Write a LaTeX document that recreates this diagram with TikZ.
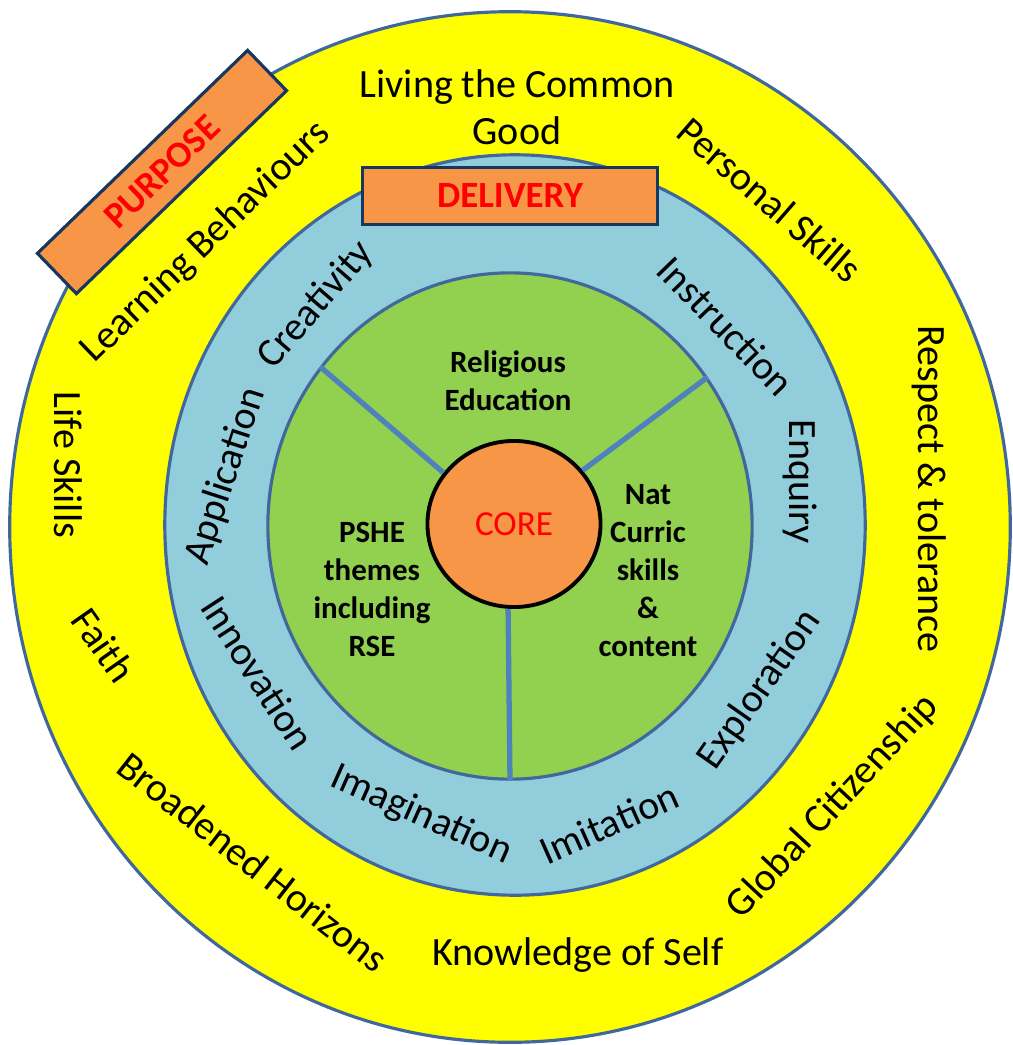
\documentclass[tikz,border=0pt]{standalone}
\usepackage{fontspec}
\setmainfont{Carlito}
\usetikzlibrary{shapes.geometric}
\definecolor{ringyellow}{HTML}{FFFF00}
\definecolor{ringblue}{HTML}{92CDDC}
\definecolor{ringgreen}{HTML}{92D050}
\definecolor{boxorange}{HTML}{F79646}
\definecolor{edgeblue}{HTML}{41689C}
\definecolor{spokeblue}{HTML}{4F81BD}
\definecolor{boxnavy}{HTML}{17375E}
\definecolor{titlered}{HTML}{FF0000}
\tikzset{
  ring/.style={ellipse, draw=edgeblue, line width=0.9pt, inner sep=0pt},
  word/.style={font=\fontsize{11.4}{13.4}\selectfont, align=center, inner sep=0pt},
  subject/.style={font=\fontsize{8.8}{10.8}\selectfont\bfseries, align=center, inner sep=0pt},
  banner/.style={draw=boxnavy, line width=0.9pt, fill=boxorange, text=titlered,
    font=\fontsize{10.5}{12}\selectfont\bfseries, inner sep=0pt},
  spoke/.style={draw=spokeblue, line width=1.5pt}
}
\begin{document}
\begin{tikzpicture}[x=0.01cm, y=-0.01cm]
    \useasboundingbox (0,0) rectangle (1013,1045);
    %rings
    \node[ring, fill=ringyellow, minimum width=10cm, minimum height=10.3cm] (outer) at (510,527) {};
    \node[ring, fill=ringblue, minimum width=7cm, minimum height=7.4cm] (mid) at (515,525) {};
    \node[ring, fill=ringgreen, minimum width=4.84cm, minimum height=5.06cm] (inner) at (510,526) {};
    \node[ellipse, draw=black, line width=1.1pt, fill=boxorange, minimum width=1.73cm,
      minimum height=1.66cm, inner sep=0pt, text=titlered, font=\fontsize{10}{12}\selectfont] (core) at (514,524) {CORE};

    %spokes
    \draw[spoke] (core.144) -- (inner.140);
    \draw[spoke] (core.38) -- (inner.37);
    \draw[spoke] (core.-94) -- (inner.-90);

    %banners
    \node[banner, rotate=44, minimum width=2.92cm, minimum height=0.56cm] (purpose) at (162,172) {PURPOSE};
    \node[banner, minimum width=2.95cm, minimum height=0.57cm] (delivery) at (510,196) {DELIVERY};

    %purpose ring
    \node[word] (common) at (517,107) {Living the Common\\Good};
    \node[word, rotate=-41] (personal) at (770,200) {Personal Skills};
    \node[word, rotate=-90] (respect) at (929,489) {Respect \& tolerance};
    \node[word, rotate=47] (global) at (833,807) {Global Citizenship};
    \node[word] (self) at (578,955) {Knowledge of Self};
    \node[word, rotate=-38] (horizons) at (253,862) {Broadened Horizons};
    \node[word, rotate=-55] (faith) at (104,645) {Faith};
    \node[word, rotate=-90] (life) at (68,465) {Life Skills};
    \node[word, rotate=44] (learning) at (206,242) {Learning Behaviours};

    %delivery ring
    \node[word, rotate=49] (creativity) at (316,305) {Creativity};
    \node[word, rotate=72] (application) at (226,476) {Application};
    \node[word, rotate=-57] (innovation) at (258,673) {Innovation};
    \node[word, rotate=-24] (imagination) at (421,815) {Imagination};
    \node[word, rotate=24] (imitation) at (609,823) {Imitation};
    \node[word, rotate=55] (exploration) at (760,690) {Exploration};
    \node[word, rotate=-90] (enquiry) at (800,482) {Enquiry};
    \node[word, rotate=-46] (instruction) at (726,326) {Instruction};

    %core subjects
    \node[subject] (re) at (508,381) {Religious\\Education};
    \node[subject] (pshe) at (372,589) {PSHE\\themes\\including\\RSE};
    \node[subject] (natcurric) at (648,571) {Nat\\Curric\\skills\\\&\\content};
\end{tikzpicture}
\end{document}
